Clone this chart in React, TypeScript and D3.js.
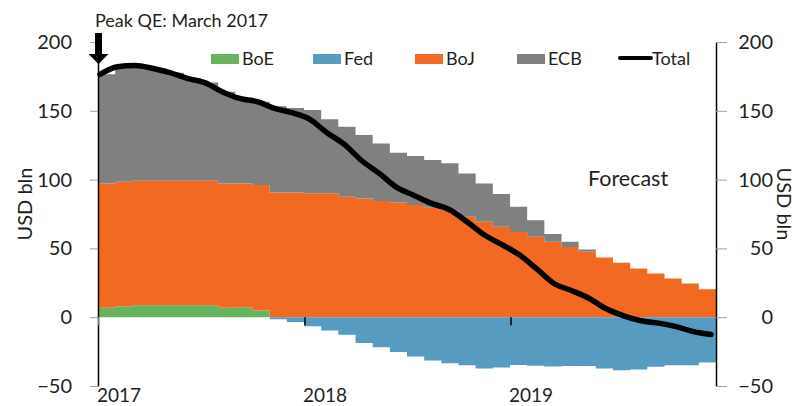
import React, { useEffect, useRef } from 'react';
import * as d3 from 'd3';

// monthly, Jan 2017 .. Dec 2019
const months = d3.timeMonth
  .range(new Date(2017, 0, 1), new Date(2020, 0, 1))
  .map(d3.timeFormat('%Y-%m'));

const boe = [6.8, 8, 8.7, 8.7, 8.7, 8.7, 8.7, 6.8, 7.3, 4.8, 0, 0, 0, 0, 0, 0, 0, 0,
  0, 0, 0, 0, 0, 0, 0, 0, 0, 0, 0, 0, 0, 0, 0, 0, 0, 0];
const fed = [0, 0, 0, 0, 0, 0, 0, 0, 0, 0, -1.5, -3.4, -6.5, -9.7, -12.8, -18.7, -21.8, -25.2,
  -28.6, -31.5, -33.5, -34.9, -37.3, -36.6, -34.7, -35.2, -35.9, -35.4, -35.4, -37.3, -38.5, -38, -36.1, -34.9, -35, -33];
const boj = [90.4, 90.4, 90.5, 90.5, 90.5, 90.5, 90.5, 90.4, 89.9, 91.2, 90.7, 90.7, 90, 90, 87.5, 86.3, 84.4, 83.4,
  81.5, 79.5, 77.3, 73, 69.3, 65.7, 62, 58.4, 54.8, 51.1, 47.5, 43.4, 39.5, 35.4, 31.8, 28.1, 24.5, 20.4];
const ecb = [79.3, 83.6, 83.8, 81.7, 78.5, 74.4, 71.3, 66.7, 61.8, 60.6, 62.6, 61.3, 60.5, 53.8, 50.9, 46.1, 41.9, 36.1,
  35.6, 34.7, 34.5, 31.5, 27.9, 23.8, 18.2, 12.1, 5.6, 3.7, 1.7, 0, 0, 0, 0, 0, 0, 0];

const seriesKeys = ['BoE', 'BoJ', 'ECB', 'Fed'];
const legendKeys = ['BoE', 'Fed', 'BoJ', 'ECB', 'Total'];
const colors = { BoE: '#66b360', Fed: '#579bc1', BoJ: '#f26a22', ECB: '#808080', Total: '#000' };
const yTicks = [-50, 0, 50, 100, 150, 200];
const yearTicks = ['2017-01', '2018-01', '2019-01'];

const App = () => {
  const svgRef = useRef();
  const width = 797, height = 406;
  const margin = { top: 42, right: 81, bottom: 20, left: 98 };

  useEffect(() => {
    document.body.style.margin = '0';
    const svg = d3.select(svgRef.current);
    svg.selectAll('*').remove();
    const font = 'Lato, "Open Sans", sans-serif';
    const textColor = '#231f20';

    const table = months.map((m, i) => ({ month: m, BoE: boe[i], Fed: fed[i], BoJ: boj[i], ECB: ecb[i] }));
    const totals = table.map(d => d.BoE + d.Fed + d.BoJ + d.ECB);

    const x = d3.scaleBand().domain(months).range([margin.left, width - margin.right]);
    const xLine = d3.scalePoint().domain(months).range([margin.left + 2, width - margin.right - 5]);
    const y = d3.scaleLinear().domain([-50, 200]).range([height - margin.bottom, margin.top]);

    const stacked = d3.stack().keys(seriesKeys).offset(d3.stackOffsetDiverging)(table);

    const area = d3.area()
      .x(p => p.x)
      .y0(p => y(p.lo))
      .y1(p => y(p.hi))
      .curve(d3.curveStepAfter);

    // stacked step areas
    stacked.forEach(s => {
      const pts = s.map((d, i) => ({ x: x(months[i]), lo: d[0], hi: d[1] }));
      const last = s[s.length - 1];
      pts.push({ x: x.range()[1], lo: last[0], hi: last[1] });
      svg.append('path')
        .attr('d', area(pts))
        .attr('fill', colors[s.key]);
    });

    // left axis
    const gL = svg.append('g')
      .attr('transform', `translate(${margin.left},0)`)
      .call(d3.axisLeft(y).tickValues(yTicks).tickSize(8).tickSizeOuter(0).tickPadding(18));
    gL.select('.domain').attr('stroke', '#000').attr('stroke-width', 1.5);
    gL.selectAll('.tick line').attr('stroke', '#a0a0a0');
    gL.selectAll('.tick text').attr('font-size', 20).attr('font-family', font).attr('fill', textColor);

    // right axis
    const gR = svg.append('g')
      .attr('transform', `translate(${width - margin.right},0)`)
      .call(d3.axisRight(y).tickValues(yTicks).tickSize(11).tickSizeOuter(0));
    gR.select('.domain').attr('stroke', '#000').attr('stroke-width', 1.5);
    gR.selectAll('.tick line').attr('stroke', '#a0a0a0');
    gR.selectAll('.tick text')
      .attr('x', 57)
      .attr('text-anchor', 'end')
      .attr('font-size', 20).attr('font-family', font).attr('fill', textColor);

    // year ticks on zero line, labels at bottom
    const gX = svg.append('g').attr('transform', `translate(0,${y(0)})`);
    gX.selectAll('line')
      .data(yearTicks)
      .enter()
      .append('line')
      .attr('x1', d => x(d) + 1)
      .attr('x2', d => x(d) + 1)
      .attr('y1', 0)
      .attr('y2', 8)
      .attr('stroke', (d, i) => i === 0 ? '#a0a0a0' : '#000')
      .attr('stroke-width', 1.5);
    svg.selectAll('text.year')
      .data(yearTicks)
      .enter()
      .append('text')
      .attr('class', 'year')
      .attr('x', d => x(d) - 1)
      .attr('y', 402)
      .attr('font-size', 19)
      .attr('font-family', font)
      .attr('fill', textColor)
      .text(d => d.slice(0, 4));

    // total line
    const line = d3.line()
      .x((d, i) => xLine(months[i]))
      .y(d => y(d))
      .curve(d3.curveMonotoneX);
    svg.append('path')
      .attr('d', line(totals))
      .attr('fill', 'none')
      .attr('stroke', colors.Total)
      .attr('stroke-width', 5.5)
      .attr('stroke-linecap', 'round');

    // axis titles
    svg.append('text')
      .attr('transform', 'translate(32,204) rotate(-90)')
      .attr('text-anchor', 'middle')
      .attr('font-size', 20).attr('font-family', font).attr('fill', textColor)
      .text('USD bln');
    svg.append('text')
      .attr('transform', 'translate(777,204) rotate(90)')
      .attr('text-anchor', 'middle')
      .attr('font-size', 20).attr('font-family', font).attr('fill', textColor)
      .text('USD bln');

    // legend
    const lg = svg.selectAll('g.legend')
      .data(legendKeys)
      .enter()
      .append('g')
      .attr('class', 'legend')
      .attr('transform', (d, i) => `translate(${211 + i * 102},0)`);
    lg.filter(d => d !== 'Total')
      .append('rect')
      .attr('x', 0).attr('y', 54).attr('width', 28).attr('height', 10)
      .attr('fill', d => colors[d]);
    lg.filter(d => d === 'Total')
      .append('line')
      .attr('x1', 1).attr('x2', 32).attr('y1', 58).attr('y2', 58)
      .attr('stroke', '#000').attr('stroke-width', 4).attr('stroke-linecap', 'round');
    lg.append('text')
      .attr('x', d => d === 'Total' ? 33 : 31)
      .attr('y', 65)
      .attr('font-size', 18).attr('font-family', font).attr('fill', textColor)
      .text(d => d);

    // annotations
    svg.append('text')
      .attr('x', 588).attr('y', 186)
      .attr('font-size', 21.5).attr('font-family', font).attr('fill', textColor)
      .text('Forecast');
    svg.append('text')
      .attr('x', 95).attr('y', 27)
      .attr('font-size', 18).attr('font-family', font).attr('fill', textColor)
      .text('Peak QE: March 2017');
    const ax = x(months[0]) + 0.5;
    svg.append('path')
      .attr('d', `M${ax - 3.5},33 H${ax + 3.5} V54 H${ax + 10} L${ax},64 L${ax - 10},54 H${ax - 3.5} Z`)
      .attr('fill', '#000');
  }, []);

  return <svg ref={svgRef} width={width} height={height} style={{ display: 'block' }}></svg>;
};

export default App;
